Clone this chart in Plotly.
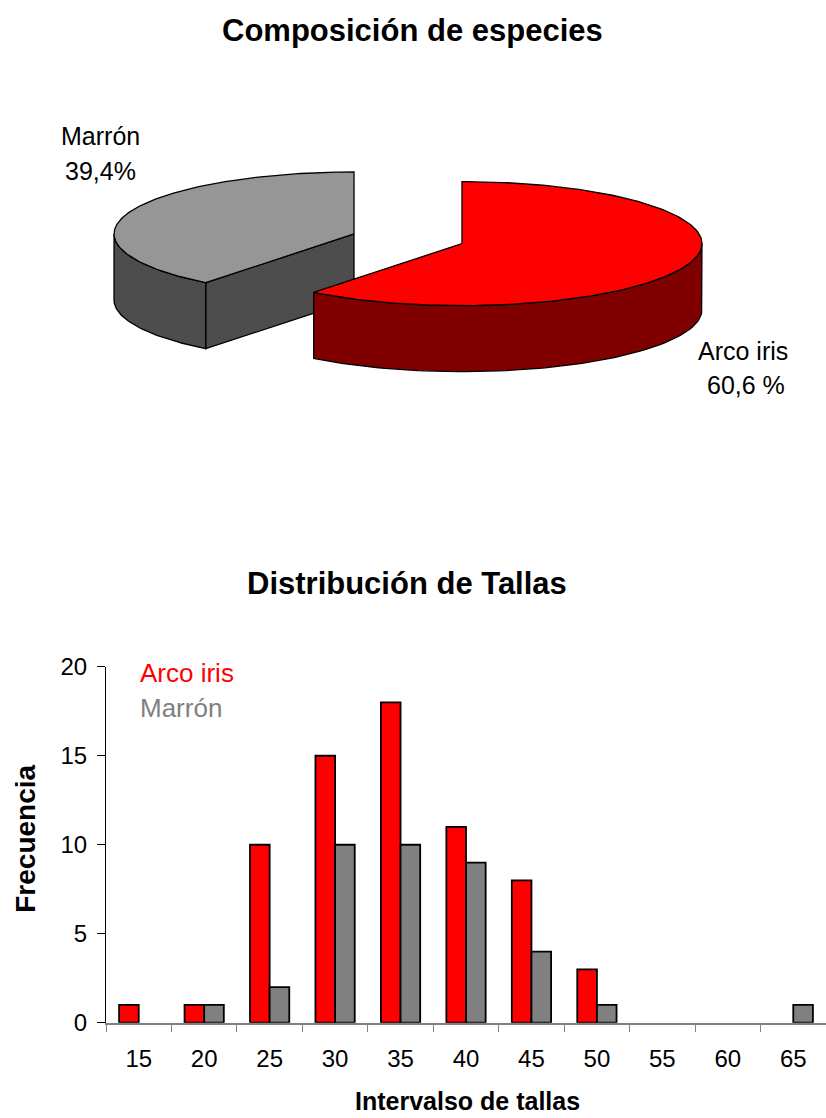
import numpy as np
import plotly.graph_objects as go

# ---------------- data ----------------
species = ["Arco iris", "Marrón"]
shares = [60.6, 39.4]
share_texts = ["60,6 %", "39,4%"]

size_classes = ["15", "20", "25", "30", "35", "40", "45", "50", "55", "60", "65"]
arco_iris = [1, 1, 10, 15, 18, 11, 8, 3, 0, 0, 0]
marron = [0, 1, 2, 10, 10, 9, 4, 1, 0, 0, 1]

# ---------------- page geometry ----------------
FW, FH = 826, 1132
S, T0 = 0.9762, 13.2  # vertical mapping of page pixels to picture pixels
FONT = "Liberation Sans, Arial, sans-serif"


def PX(x):
    return x / FW


def PY(t):
    page = (t - T0) / S
    return 1 - page / FH


fig = go.Figure()

# ---------------- 3D exploded pie (drawn from shares) ----------------
CX, CY, A, B, DEPTH, PULL = 408, 238, 240, 62, 66, 0.238
top_colors = ["#FF0000", "#969696"]
side_colors = ["#800000", "#4D4D4D"]


def ell(cx, cy, th, dz=0.0):
    return cx + A * np.cos(th), cy - B * np.sin(th) + dz


def add_poly(xs, ys, color):
    fig.add_trace(go.Scatter(
        x=list(xs) + [xs[0]], y=list(ys) + [ys[0]], mode="lines", fill="toself",
        fillcolor=color, line=dict(color="black", width=1.3),
        xaxis="x2", yaxis="y2", hoverinfo="skip", showlegend=False))


slices = []
cum = 0.0
for i, s in enumerate(shares):
    start = np.radians(90 - cum * 3.6)
    end = np.radians(90 - (cum + s) * 3.6)
    cum += s
    mid = (start + end) / 2
    cx = CX + PULL * A * np.cos(mid)
    cy = CY - PULL * B * np.sin(mid)
    slices.append(dict(i=i, start=start, end=end, cx=cx, cy=cy))

# back to front
for sl in sorted(slices, key=lambda d: d["cy"]):
    i, st, en, cx, cy = sl["i"], sl["start"], sl["end"], sl["cx"], sl["cy"]
    # cut faces facing the viewer
    for edge, normal in ((st, st + np.pi / 2), (en, en - np.pi / 2)):
        if np.sin(normal) < -1e-6:
            ex, ey = ell(cx, cy, edge)
            add_poly([cx, ex, ex, cx], [cy, ey, ey + DEPTH, cy + DEPTH], side_colors[i])
    # outer wall: visible where sin(theta) < 0
    for k in range(-2, 2):
        lo = max(en, -np.pi + 2 * np.pi * k)
        hi = min(st, 0 + 2 * np.pi * k)
        if hi - lo > 1e-6:
            th = np.linspace(lo, hi, 80)
            tx, ty = ell(cx, cy, th)
            bx, by = ell(cx, cy, th[::-1], DEPTH)
            add_poly(np.concatenate([tx, bx]), np.concatenate([ty, by]), side_colors[i])
    # top face
    th = np.linspace(st, en, 200)
    tx, ty = ell(cx, cy, th)
    add_poly(np.concatenate([[cx], tx]), np.concatenate([[cy], ty]), top_colors[i])

# ---------------- bar chart ----------------
def outline_widths(vals):
    return [1.8 if v > 0 else 0 for v in vals]


fig.add_trace(go.Bar(x=size_classes, y=arco_iris, name=species[0],
                     marker=dict(color="#FF0000",
                                 line=dict(color="black", width=outline_widths(arco_iris))),
                     showlegend=False, xaxis="x", yaxis="y"))
fig.add_trace(go.Bar(x=size_classes, y=marron, name=species[1],
                     marker=dict(color="#808080",
                                 line=dict(color="black", width=outline_widths(marron))),
                     showlegend=False, xaxis="x", yaxis="y"))

fig.update_layout(
    width=FW, height=FH, margin=dict(l=0, r=0, t=0, b=0),
    paper_bgcolor="white", plot_bgcolor="white",
    font=dict(family=FONT, color="black"),
    barmode="group", bargap=0.4, bargroupgap=0,
    xaxis=dict(domain=[PX(106), 1.0], type="category", tickson="boundaries",
               ticks="outside", ticklen=8, tickcolor="#808080", showline=True,
               linecolor="#808080", linewidth=1.5, showgrid=False,
               tickfont=dict(size=24, family=FONT, color="black"), ticklabelstandoff=14,
               anchor="y"),
    yaxis=dict(domain=[PY(1022), PY(666)], range=[0, 20], dtick=5,
               ticks="outside", ticklen=8, tickcolor="black", showline=True,
               linecolor="black", linewidth=1, showgrid=False, zeroline=False,
               tickfont=dict(size=24, family=FONT, color="black"), ticklabelstandoff=5,
               anchor="x"),
    xaxis2=dict(domain=[0, 1], range=[0, FW], visible=False, anchor="y2"),
    yaxis2=dict(domain=[PY(430), PY(90)], range=[430, 90], visible=False, anchor="x2"),
)


def ann(text, x, y, size, color="black", bold=False, angle=0, xanchor="center"):
    fig.add_annotation(text=f"<b>{text}</b>" if bold else text,
                       x=PX(x), y=PY(y), xref="paper", yref="paper",
                       showarrow=False, xanchor=xanchor, yanchor="middle",
                       textangle=angle,
                       font=dict(size=size, color=color, family=FONT))


ann("Composición de especies", 412, 30, 31, bold=True)
ann("Distribución de Tallas", 407, 583, 31, bold=True)
ann("Frecuencia", 26, 838, 28, bold=True, angle=-90)
ann("Intervalso de tallas", 467, 1100, 25, bold=True)

# series labels (legend inside plot)
ann(species[0], 138, 672, 26, color="#FF0000", xanchor="left")
ann(species[1], 138, 707, 26, color="#808080", xanchor="left")

# pie labels
ann(species[1], 100, 135, 25)
ann(share_texts[1], 100, 170, 25)
ann(species[0], 743, 350, 25)
ann(share_texts[0], 746, 384, 25)

fig.write_html("out.html", config={"displayModeBar": False},
               post_script="document.body.style.margin='0';document.body.style.overflow='hidden';")
